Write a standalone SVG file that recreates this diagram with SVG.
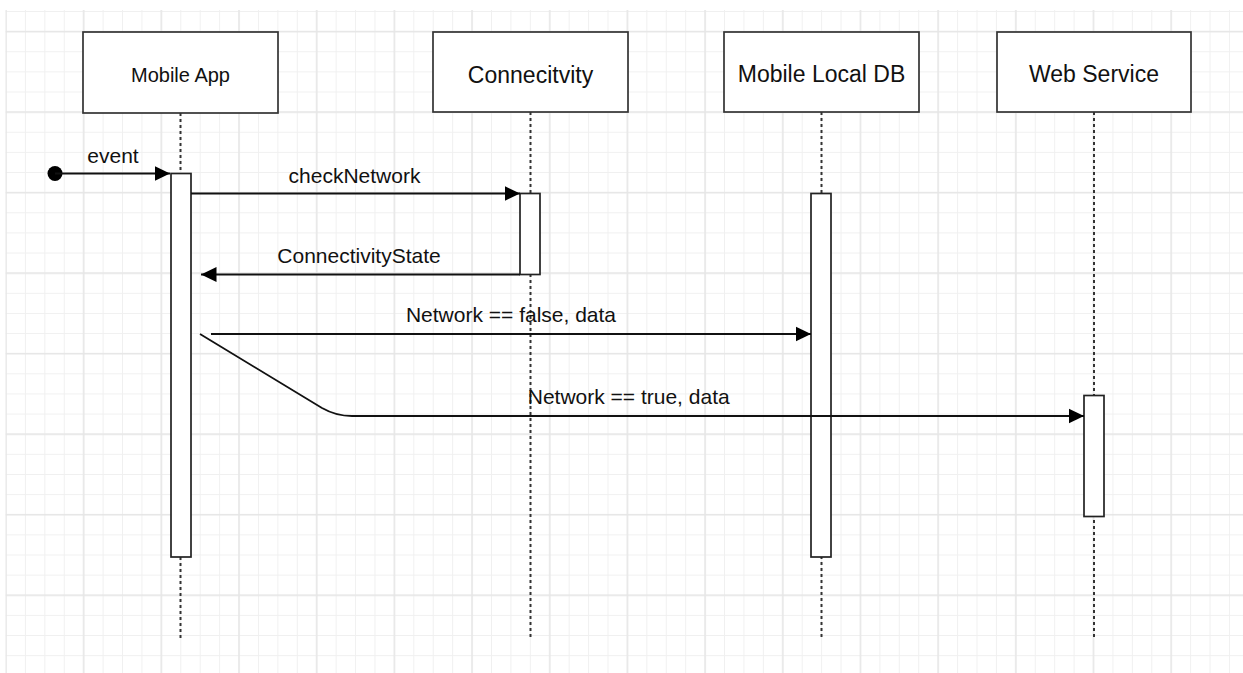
<svg xmlns="http://www.w3.org/2000/svg" width="1243" height="673" viewBox="0 0 1243 673">
<defs>
<style>
.bg{fill:#ffffff}
.box{fill:#ffffff;stroke:#333333;stroke-width:1.7}
.title{font-family:"Liberation Sans",Arial,sans-serif;font-size:23px;text-anchor:middle;fill:#111111}
.life{fill:none;stroke:#333333;stroke-width:2;stroke-dasharray:3 3}
.act{fill:#ffffff;stroke:#222222;stroke-width:1.7}
.msg{fill:none;stroke:#111111;stroke-width:1.8;marker-end:url(#arr)}
.lbl{font-family:"Liberation Sans",Arial,sans-serif;font-size:21px;text-anchor:middle;fill:#111111}
</style>
<pattern id="minor" patternUnits="userSpaceOnUse" x="5.5" y="11" width="19.42" height="20.13">
<path d="M0,0.5 H19.42 M0.5,0 V20.13" stroke="#f0f0f0" stroke-width="1" fill="none"/>
</pattern>
<pattern id="major" patternUnits="userSpaceOnUse" x="5" y="30.8" width="77.68" height="80.52">
<path d="M0,0.8 H77.68 M1,0 V80.52" stroke="#e6e6e6" stroke-width="1.4" fill="none"/>
</pattern>
<marker id="arr" markerUnits="userSpaceOnUse" markerWidth="17" markerHeight="17" refX="15.5" refY="8" orient="auto">
<path d="M0,0.5 L15.5,8 L0,15.5 Z" fill="#000000"/>
</marker>
</defs>
<rect class="bg" x="0" y="0" width="1243" height="673"/>
<g id="grid">
<rect x="5.5" y="10" width="1237.5" height="663" fill="url(#minor)"/>
<rect x="5.5" y="10" width="1237.5" height="663" fill="url(#major)"/>
</g>
<g id="node-mobile-app">
<line class="life" x1="180.5" y1="113" x2="180.5" y2="638"/>
<rect class="box" x="83" y="32" width="195" height="81"/>
<text class="title" x="180.5" y="81.5" style="font-size:20px">Mobile App</text>
<rect class="act" x="171" y="173.5" width="20" height="383.5"/>
</g>
<g id="node-connectivity">
<line class="life" x1="530.5" y1="112" x2="530.5" y2="638"/>
<rect class="box" x="433" y="32" width="195" height="80"/>
<text class="title" x="530.5" y="82.5">Connecitvity</text>
<rect class="act" x="520" y="193.5" width="20" height="81"/>
</g>
<g id="node-local-db">
<line class="life" x1="821.5" y1="112" x2="821.5" y2="638"/>
<rect class="box" x="724" y="32" width="195" height="80"/>
<text class="title" x="821.5" y="82.3">Mobile Local DB</text>
<rect class="act" x="811" y="193.5" width="20" height="363.5"/>
</g>
<g id="node-web-service">
<line class="life" x1="1094" y1="112" x2="1094" y2="638"/>
<rect class="box" x="997" y="32" width="194" height="80"/>
<text class="title" x="1094" y="82.3">Web Service</text>
<rect class="act" x="1084" y="395.5" width="20" height="121"/>
</g>
<g id="connectors">
<circle cx="55" cy="173.5" r="7.5" fill="#000000"/>
<path class="msg" d="M55,173.5 H170"/>
<text class="lbl" x="113" y="162.5">event</text>
<path class="msg" d="M191,193.5 H520"/>
<text class="lbl" x="354.5" y="183.3">checkNetwork</text>
<path class="msg" d="M520,274.5 H201"/>
<text class="lbl" x="359" y="262.7">ConnectivityState</text>
<path class="msg" d="M211,334 H811"/>
<text class="lbl" x="511" y="321.7">Network == false, data</text>
<path class="msg" d="M200,334 L322,408 Q336,416 352,416 H1084"/>
<text class="lbl" x="628.7" y="404.3">Network == true, data</text>
</g>
</svg>
